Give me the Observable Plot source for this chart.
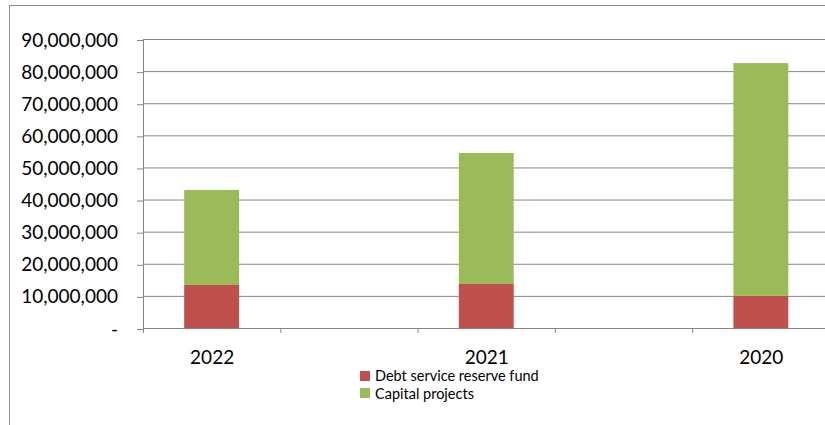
<!DOCTYPE html>
<html><head><meta charset="utf-8">
<script src="https://cdn.jsdelivr.net/npm/d3@7"></script>
<script src="https://cdn.jsdelivr.net/npm/@observablehq/plot@0.6"></script>
<style>
body{margin:0;background:#fff;}
#wrap{position:relative;width:825px;height:425px;overflow:hidden;font-family:Lato,sans-serif;background:#fff;}
#frame{position:absolute;left:9px;top:5px;width:830px;height:430px;border-left:1px solid #8e8e8e;border-top:1px solid #8e8e8e;pointer-events:none;}
#legend{position:absolute;left:360px;top:367px;font-size:14.5px;color:#000;}
#legend .row{display:flex;align-items:center;height:17.5px;white-space:nowrap;}
#legend .sw{width:10px;height:10px;margin-right:5px;flex:none;}
#chart{position:absolute;left:0;top:0;}
</style>
</head><body>
<div id="wrap"><div id="chart"></div><div id="frame"></div><div id="legend"></div></div>
<script>
const years = ["2022", "2021", "2020"];
const debtReserve = [13.4e6, 13.7e6, 10.0e6];
const capital = [29.6e6, 40.8e6, 72.5e6];
const seriesNames = ["Debt service reserve fund", "Capital projects"];
const seriesColors = ["#C0504D", "#9BBB59"];
const yTicks = [0, 10e6, 20e6, 30e6, 40e6, 50e6, 60e6, 70e6, 80e6, 90e6];

const slots = years.length * 2 - 1; // Excel layout: a blank category between each year
const rows = years.flatMap((yr, i) => [
  {year: yr, slot: 2 * i, series: seriesNames[0], y1: 0, y2: debtReserve[i]},
  {year: yr, slot: 2 * i, series: seriesNames[1], y1: debtReserve[i], y2: debtReserve[i] + capital[i]}
]);
const gridColor = "#868686";
const fmt = d => d === 0 ? "-" : d3.format(",")(d);

const chart = Plot.plot({
  width: 825,
  height: 425,
  marginTop: 39,
  marginBottom: 97,
  marginLeft: 143,
  marginRight: 0,
  style: {fontFamily: "Lato, sans-serif", fontSize: "19px", background: "transparent", color: "#000"},
  x: {domain: [0, slots], range: [143, 829.5], axis: null},
  y: {domain: [0, 90e6], axis: null},
  color: {domain: seriesNames, range: seriesColors},
  marks: [
    Plot.ruleY(yTicks, {x1: 0, x2: slots, stroke: gridColor, strokeWidth: 1}),
    Plot.rectY(rows, {x1: d => d.slot + 0.3, x2: d => d.slot + 0.7, y1: "y1", y2: "y2", fill: "series"}),
    Plot.ruleX([0], {y1: 0, y2: 90e6, stroke: gridColor}),
    Plot.axisY(yTicks, {anchor: "left", tickSize: 6, tickPadding: 19.5, tickFormat: fmt, stroke: gridColor, fill: "#000", fontSize: 19, dy: 1}),
    Plot.axisX(d3.range(0, slots + 1), {anchor: "bottom", tickSize: 5, tickFormat: () => "", stroke: gridColor}),
    Plot.text(years, {x: (d, i) => 2 * i + 0.5, y: () => 0, dy: 29, fontSize: 19, fill: "#000", lineAnchor: "middle"})
  ]
});
document.getElementById("chart").appendChild(chart);

const legend = document.getElementById("legend");
seriesNames.forEach((name, i) => {
  const row = document.createElement("div");
  row.className = "row";
  const sw = document.createElement("span");
  sw.className = "sw";
  sw.style.background = seriesColors[i];
  const t = document.createElement("span");
  t.textContent = name;
  row.appendChild(sw);
  row.appendChild(t);
  legend.appendChild(row);
});
</script>
</body></html>
